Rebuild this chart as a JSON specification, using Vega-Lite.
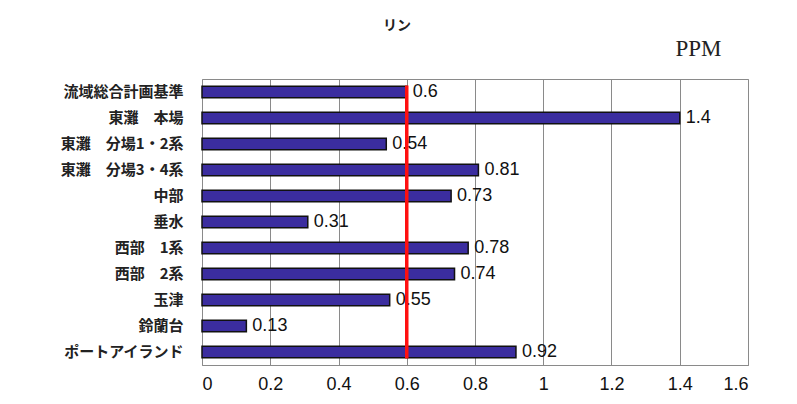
{
  "$schema": "https://vega.github.io/schema/vega-lite/v6.json",
  "width": 546,
  "height": 286,
  "autosize": {"type": "none"},
  "padding": {"left": 202, "top": 79, "right": 49, "bottom": 39},
  "background": "white",
  "title": {
    "text": "リン",
    "anchor": "start",
    "frame": "group",
    "dx": 181,
    "offset": 4,
    "font": "Noto Sans CJK JP",
    "fontSize": 14,
    "fontWeight": "bold",
    "color": "#222"
  },
  "data": {
    "values": [
      {"site": "流域総合計画基準", "ppm": 0.6},
      {"site": "東灘　本場", "ppm": 1.4},
      {"site": "東灘　分場1・2系", "ppm": 0.54},
      {"site": "東灘　分場3・4系", "ppm": 0.81},
      {"site": "中部", "ppm": 0.73},
      {"site": "垂水", "ppm": 0.31},
      {"site": "西部　1系", "ppm": 0.78},
      {"site": "西部　2系", "ppm": 0.74},
      {"site": "玉津", "ppm": 0.55},
      {"site": "鈴蘭台", "ppm": 0.13},
      {"site": "ポートアイランド", "ppm": 0.92}
    ]
  },
  "encoding": {
    "y": {
      "field": "site",
      "type": "nominal",
      "sort": null,
      "scale": {"paddingInner": 0, "paddingOuter": 0},
      "axis": {
        "title": null,
        "ticks": false,
        "domain": false,
        "labelPadding": 19,
        "labelFont": "Noto Sans CJK JP",
        "labelFontSize": 15,
        "labelFontWeight": "bold",
        "labelColor": "#222"
      }
    }
  },
  "layer": [
    {
      "mark": {"type": "bar", "height": {"band": 0.44}, "color": "#3b2d9f", "stroke": "#111", "strokeWidth": 1.5},
      "encoding": {
        "x": {
          "field": "ppm",
          "type": "quantitative",
          "scale": {"domain": [0, 1.6], "nice": false},
          "axis": {
            "title": null,
            "values": [0, 0.2, 0.4, 0.6, 0.8, 1, 1.2, 1.4, 1.6],
            "format": "~g",
            "ticks": false,
            "labelPadding": 10,
            "labelFont": "Liberation Sans",
            "labelFontSize": 18,
            "labelColor": "#111",
            "grid": true,
            "gridColor": "#8a8a8a",
            "gridWidth": 1,
            "gridOpacity": 1,
            "domainColor": "#8a8a8a"
          }
        }
      }
    },
    {
      "mark": {"type": "text", "align": "left", "baseline": "middle", "dx": 6, "font": "Liberation Sans", "fontSize": 18, "color": "#111"},
      "encoding": {
        "x": {"field": "ppm", "type": "quantitative", "axis": null},
        "text": {"field": "ppm", "type": "quantitative"}
      }
    },
    {
      "data": {"values": [{"std": 0.6}]},
      "mark": {"type": "rule", "color": "#ff1010", "strokeWidth": 3.5},
      "encoding": {
        "x": {
          "field": "std",
          "type": "quantitative",
          "axis": {
            "orient": "top",
            "labels": false,
            "ticks": false,
            "domain": false,
            "grid": false,
            "title": "PPM",
            "titleX": 519,
            "titleY": -24,
            "titleAlign": "right",
            "titleBaseline": "alphabetic",
            "titleFont": "Liberation Serif",
            "titleFontSize": 23,
            "titleFontWeight": "normal",
            "titleColor": "#222"
          }
        },
        "y": {"datum": "流域総合計画基準", "type": "nominal", "bandPosition": 0.25},
        "y2": {"datum": "ポートアイランド", "bandPosition": 0.75}
      }
    }
  ],
  "resolve": {"axis": {"x": "independent"}},
  "config": {
    "view": {"stroke": "#8a8a8a", "strokeWidth": 1}
  }
}
